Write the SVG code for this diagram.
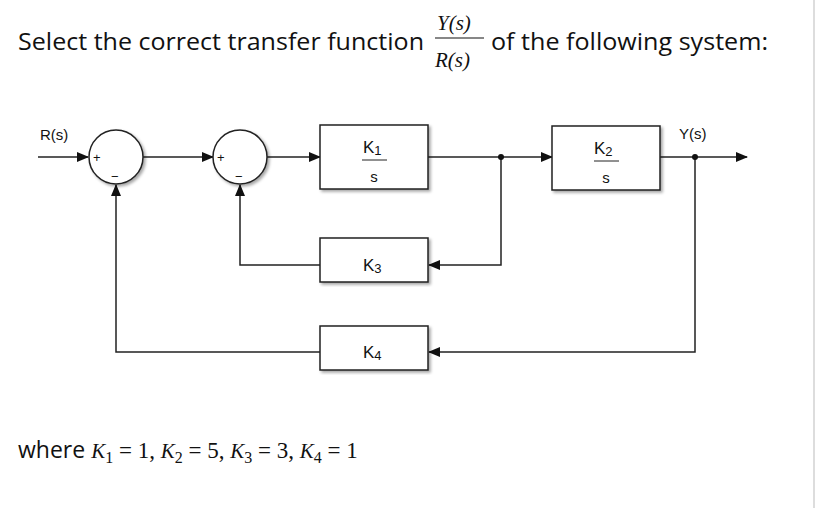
<svg xmlns="http://www.w3.org/2000/svg" width="824" height="508" viewBox="0 0 824 508">
<style>
.t{font-family:"Liberation Sans",Arial,sans-serif;fill:#111}
.h{font-family:"Open Sans","Liberation Sans",sans-serif;font-size:23px;fill:#111}
.m{font-family:"Liberation Serif",serif;font-style:italic;font-size:21px;fill:#111}
.b{fill:#fff;stroke:#222;stroke-width:1.5}
.l{fill:none;stroke:#222;stroke-width:1.5}
</style>
<defs>
<marker id="a" markerWidth="12" markerHeight="10" refX="11" refY="5" orient="auto" markerUnits="userSpaceOnUse"><path d="M0,0L12,5L0,10Z" fill="#111"/></marker>
<filter id="s"><feDropShadow dx="2" dy="2" stdDeviation="1.5" flood-opacity="0.35"/></filter>
</defs>
<rect width="824" height="508" fill="#fff"/>
<line x1="814" y1="0" x2="814" y2="508" stroke="#bbb"/>
<text class="h" x="18" y="50" textLength="406" lengthAdjust="spacingAndGlyphs">Select the correct transfer function</text>
<text class="m" x="437" y="30">Y(s)</text>
<line x1="435" y1="38" x2="484" y2="38" stroke="#111" stroke-width="1.2"/>
<text class="m" x="435" y="67">R(s)</text>
<text class="h" x="491" y="50" textLength="277" lengthAdjust="spacingAndGlyphs">of the following system:</text>
<text class="h" x="18" y="458" font-size="25">where <tspan class="m" font-size="25">K</tspan><tspan font-size="16" dy="5" font-family="Liberation Serif">1</tspan><tspan dy="-5" font-family="Liberation Serif">  =  1, </tspan><tspan class="m" font-size="25">K</tspan><tspan font-size="16" dy="5" font-family="Liberation Serif">2</tspan><tspan dy="-5" font-family="Liberation Serif">  =  5, </tspan><tspan class="m" font-size="25">K</tspan><tspan font-size="16" dy="5" font-family="Liberation Serif">3</tspan><tspan dy="-5" font-family="Liberation Serif">  =  3, </tspan><tspan class="m" font-size="25">K</tspan><tspan font-size="16" dy="5" font-family="Liberation Serif">4</tspan><tspan dy="-5" font-family="Liberation Serif">  =  1</tspan></text>
<g id="connectors">
<line class="l" x1="38" y1="157" x2="88" y2="157" marker-end="url(#a)"/>
<line class="l" x1="143" y1="157" x2="213" y2="157" marker-end="url(#a)"/>
<line class="l" x1="267" y1="157" x2="320" y2="157" marker-end="url(#a)"/>
<line class="l" x1="428" y1="157" x2="552" y2="157" marker-end="url(#a)"/>
<line class="l" x1="660" y1="157" x2="747" y2="157" marker-end="url(#a)"/>
<polyline class="l" points="501,157 501,265 429,265" marker-end="url(#a)"/>
<polyline class="l" points="320,265 240,265 240,185" marker-end="url(#a)"/>
<polyline class="l" points="695,157 695,352 429,352" marker-end="url(#a)"/>
<polyline class="l" points="320,352 116,352 116,185" marker-end="url(#a)"/>
<circle cx="501" cy="157" r="3" fill="#111"/>
<circle cx="695" cy="157" r="3" fill="#111"/>
</g>
<text class="t" x="40" y="140" font-size="15">R(s)</text>
<text class="t" x="679" y="139" font-size="15">Y(s)</text>
<g id="sum1"><circle class="b" cx="116" cy="157" r="27" filter="url(#s)"/><text class="t" x="93" y="162" font-size="13">+</text><text class="t" x="111" y="181" font-size="13">−</text></g>
<g id="sum2"><circle class="b" cx="240" cy="157" r="27" filter="url(#s)"/><text class="t" x="217" y="162" font-size="13">+</text><text class="t" x="235" y="181" font-size="13">−</text></g>
<g id="k1"><rect class="b" x="320" y="125" width="108" height="64" filter="url(#s)"/><text class="t" x="363" y="153" font-size="17">K<tspan font-size="13" dy="2">1</tspan></text><line x1="362" y1="160" x2="387" y2="160" stroke="#222"/><text class="t" x="374" y="182" font-size="15" text-anchor="middle">s</text></g>
<g id="k2"><rect class="b" x="552" y="126" width="108" height="64" filter="url(#s)"/><text class="t" x="594" y="154" font-size="17">K<tspan font-size="13" dy="2">2</tspan></text><line x1="594" y1="161" x2="619" y2="161" stroke="#222"/><text class="t" x="606" y="183" font-size="15" text-anchor="middle">s</text></g>
<g id="k3"><rect class="b" x="320" y="238" width="108" height="44" filter="url(#s)"/><text class="t" x="363" y="271" font-size="17">K<tspan font-size="13" dy="2">3</tspan></text></g>
<g id="k4"><rect class="b" x="320" y="326" width="108" height="44" filter="url(#s)"/><text class="t" x="363" y="358" font-size="17">K<tspan font-size="13" dy="2">4</tspan></text></g>
</svg>
